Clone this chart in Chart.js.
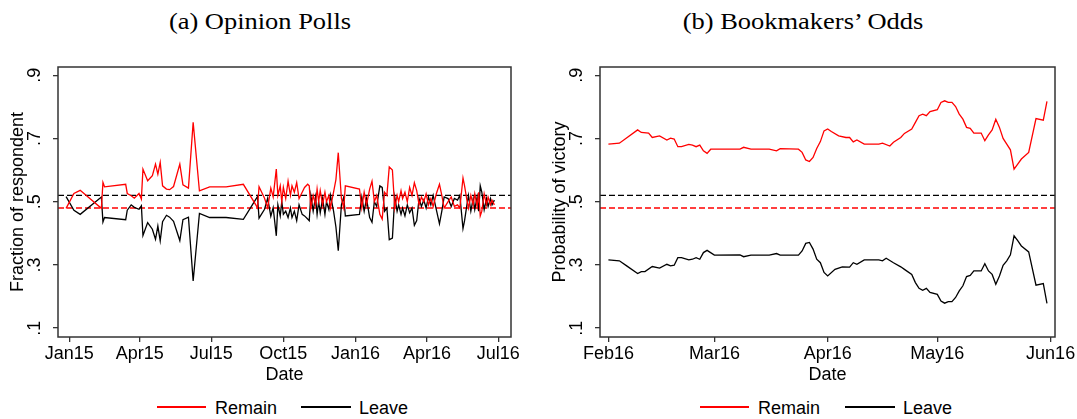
<!DOCTYPE html>
<html>
<head>
<meta charset="utf-8">
<script src="https://cdn.jsdelivr.net/npm/chart.js@4.4.0/dist/chart.umd.min.js"></script>
<style>
body{margin:0;background:#fff;width:1077px;height:419px;overflow:hidden;position:relative;font-family:"Liberation Sans",Arial,sans-serif;color:#000}
canvas{position:absolute;top:0}
.title{position:absolute;top:9px;width:600px;text-align:center;font:23px/26px "Liberation Serif",serif;transform:scaleX(1.15);transform-origin:center}
.lg{position:absolute;top:398px;font-size:18px;line-height:20px;white-space:nowrap}
.ln{position:absolute;top:406px;height:1.5px}
</style>
</head>
<body>
<div class="title" style="left:-40px">(a) Opinion Polls</div>
<div class="title" style="left:503px">(b) Bookmakers’ Odds</div>

<canvas id="polls" width="540" height="392" style="left:0"></canvas>
<canvas id="odds" width="537" height="392" style="left:540px"></canvas>

<div class="ln" style="left:157px;width:49px;background:#ff0000"></div>
<div class="lg" style="left:215px">Remain</div>
<div class="ln" style="left:301px;width:50px;background:#000"></div>
<div class="lg" style="left:359px">Leave</div>

<div class="ln" style="left:700px;width:49px;background:#ff0000"></div>
<div class="lg" style="left:758px">Remain</div>
<div class="ln" style="left:845px;width:50px;background:#000"></div>
<div class="lg" style="left:903px">Leave</div>

<script>
// y axis (both panels)
var yTicks = [0.1, 0.3, 0.5, 0.7, 0.9];
var yTickLabels = [".1", ".3", ".5", ".7", ".9"];
var yRange = [0.072, 0.926];
var refLeave = 0.52;
var refRemain = 0.48;

// (a) opinion polls, days since 1 Jan 2015
var pollTickDays = [0, 90, 181, 273, 365, 456, 547];
var pollTickLabels = ["Jan15", "Apr15", "Jul15", "Oct15", "Jan16", "Apr16", "Jul16"];
var pollRange = [-14.3, 563.2];
var pollDays = [-4, 6, 14, 41, 43, 45, 72, 74, 79, 83, 89, 92, 94, 100, 106, 110, 113, 116, 119, 124,
	128, 133, 141, 145, 152, 158, 166, 179, 200, 222,
	240, 242, 249, 253, 257, 260, 264,
	266, 269, 271, 273, 276, 279, 282, 284, 287, 290, 293, 297, 300, 304, 306, 308, 311, 314, 316, 318,
	320, 323, 326, 328, 331, 333, 337, 340, 343, 347, 350, 352, 370, 373, 376, 379, 383, 386, 389, 392,
	396, 399, 402, 405,
	408, 412, 415, 418, 420, 423, 425, 428, 431, 434, 437, 440, 443, 446, 449, 452, 455, 458, 461, 464,
	468, 472, 475, 478, 483, 487, 491, 495, 498, 502, 504, 507, 509, 512, 515, 517, 520, 522, 524, 526,
	529, 532, 534, 537, 539, 542];
var pollRemain = [.479, .526, .536, .479, .561, .547, .555, .526, .519, .511, .526, .508, .603, .566, .582, .619, .587, .624, .550, .540,
	.538, .548, .619, .553, .543, .751, .534, .547, .547, .555,
	.481, .547, .511, .481, .543, .515, .603,
	.52, .55, .50, .545, .51, .565, .52, .55, .53, .56, .51, .53, .545, .555, .55, .48, .52, .49, .54, .50,
	.535, .49, .53, .50, .52, .48, .53, .57, .655, .51, .48, .55, .54, .48, .53, .49, .54, .565, .50, .52,
	.46, .445, .53, .52,
	.61, .60, .48, .52, .50, .535, .51, .53, .50, .545, .52, .56, .535, .49, .515, .50, .525, .49, .51, .485,
	.525, .555, .52, .48, .50, .515, .485, .49, .48, .575, .55, .505, .48, .52, .49, .525, .485, .53, .455, .47,
	.525, .49, .515, .49, .505, .49];
var pollLeave = [.516, .473, .460, .515, .436, .450, .443, .473, .490, .482, .476, .487, .393, .434, .413, .381, .423, .376, .437, .457,
	.451, .438, .377, .443, .451, .249, .463, .450, .450, .444,
	.516, .448, .476, .511, .454, .481, .392,
	.49, .455, .50, .46, .47, .45, .48, .45, .47, .44, .49, .46, .455, .445, .44, .52, .47, .515, .46, .50,
	.465, .51, .46, .50, .475, .52, .47, .42, .345, .49, .515, .455, .46, .515, .47, .51, .45, .435, .50, .485,
	.55, .545, .47, .48,
	.38, .385, .515, .47, .49, .46, .48, .455, .49, .465, .48, .425, .44, .51, .485, .505, .48, .515, .49, .52,
	.475, .43, .47, .515, .51, .485, .51, .505, .52, .415, .44, .49, .52, .47, .51, .475, .515, .47, .55, .53,
	.475, .51, .485, .51, .49, .505];

// (b) bookmakers' odds, days since 1 Feb 2016
var oddsTickDays = [0, 29, 60, 90, 121];
var oddsTickLabels = ["Feb16", "Mar16", "Apr16", "May16", "Jun16"];
var oddsRange = [-2.3, 122.2];
var remainDays = [0, 3, 8, 9, 11, 12, 14, 16, 17, 18, 19, 20, 22, 23, 24, 25, 26, 27, 28, 36, 37, 39, 44, 46, 47,
	52, 53, 54, 55, 56, 57, 58, 59, 60, 61, 63, 65, 66, 67, 68, 70, 74, 75, 77, 78, 80, 81, 83, 84, 85, 86, 87, 88,
	90, 91, 92, 93, 94, 95, 96, 97, 98, 99, 100, 102, 103, 104, 105, 106, 107, 108, 109, 110, 111, 112, 113, 115,
	117, 119, 120];
var oddsRemain = [.682, .685, .727, .719, .717, .703, .708, .695, .701, .698, .674, .674, .681, .679, .674, .679, .661, .653, .666, .666, .672, .666, .666, .661, .668,
	.666, .656, .632, .627, .640, .668, .690, .724, .730, .722, .708, .703, .703, .689, .695, .682, .682, .685, .676, .688, .703, .716, .730, .751, .772, .777, .772, .785,
	.791, .814, .819, .814, .814, .801, .777, .761, .735, .732, .717, .717, .693, .711, .727, .761, .735, .700, .682, .664, .603, .619, .635, .656,
	.763, .758, .817];
var leaveDays = [0, 3, 5, 8, 9, 10, 12, 14, 16, 17, 18, 19, 20, 22, 23, 24, 25, 26, 27, 29, 36, 37, 39, 44, 46, 47,
	52, 53, 54, 55, 56, 57, 58, 59, 60, 62, 64, 66, 67, 68, 70, 74, 75, 76, 78, 80, 81, 83, 84, 85, 86, 87, 88,
	90, 91, 92, 93, 94, 95, 96, 97, 98, 99, 100, 102, 103, 104, 105, 106, 107, 108, 109, 110, 111, 112, 113, 115,
	117, 119, 120];
var oddsLeave = [.316, .313, .297, .273, .279, .279, .295, .290, .302, .297, .299, .323, .323, .316, .318, .323, .318, .339, .346, .331, .332, .326, .331, .331, .336, .331,
	.331, .344, .368, .371, .350, .318, .307, .276, .265, .286, .294, .293, .307, .302, .316, .316, .313, .321, .307, .294, .286, .270, .244, .226, .220, .226, .213,
	.207, .186, .179, .184, .184, .197, .218, .234, .263, .267, .281, .281, .304, .281, .270, .239, .265, .299, .313, .332, .392, .377, .360, .341,
	.236, .241, .178];

var tickFont = {family: "Liberation Sans", size: 18};
var frameColor = "#333";

function pts(xs, ys){
	return xs.map(function(x, i){ return {x: x, y: ys[i]}; });
}

var framePlugin = {
	id: "frame",
	afterDraw: function(chart){
		var ctx = chart.ctx, a = chart.chartArea, s = chart.scales.y;
		ctx.save();
		ctx.strokeStyle = frameColor;
		ctx.lineWidth = 1.5;
		ctx.strokeRect(a.left, a.top, a.right - a.left, a.bottom - a.top);
		ctx.font = "18px 'Liberation Sans'";
		ctx.fillStyle = "#000";
		ctx.textAlign = "center";
		ctx.textBaseline = "middle";
		for (var i=0; i<yTicks.length; i++){
			ctx.save();
			ctx.translate(a.left - 23, s.getPixelForValue(yTicks[i]));
			ctx.rotate(-Math.PI/2);
			ctx.fillText(yTickLabels[i], 0, 0);
			ctx.restore();
		}
		ctx.restore();
	}
};

function makeChart(id, opt){
	var line = function(label, data, color, dash){
		return {label: label, data: data, borderColor: color, borderWidth: 1.3, borderDash: dash || [],
			pointRadius: 0, tension: 0, fill: false};
	};
	new Chart(document.getElementById(id), {
		type: "line",
		data: {
			datasets: [
				line("Remain", opt.remain, "#ff0000"),
				line("Leave", opt.leave, "#000000"),
				line("ref leave", pts(opt.xRange, [refLeave, refLeave]), "#000000", [6, 3]),
				line("ref remain", pts(opt.xRange, [refRemain, refRemain]), "#ff0000", [6, 3])
			]
		},
		options: {
			responsive: false,
			animation: false,
			devicePixelRatio: 1,
			layout: {padding: {top: 67, right: opt.padRight, bottom: 0, left: 0}},
			plugins: {legend: {display: false}, tooltip: {enabled: false}},
			scales: {
				x: {
					type: "linear",
					min: opt.xRange[0],
					max: opt.xRange[1],
					afterBuildTicks: function(s){ s.ticks = opt.tickDays.map(function(v){ return {value: v}; }); },
					afterFit: function(s){ s.height = 55; s.paddingLeft = 0; s.paddingRight = 0; },
					ticks: {
						autoSkip: false, maxRotation: 0, padding: 1, color: "#000", font: tickFont,
						callback: function(v, i){ return opt.tickLabels[i]; }
					},
					grid: {drawOnChartArea: false, drawTicks: true, tickLength: 5, color: frameColor, lineWidth: 1.3},
					border: {display: false},
					title: {display: true, text: "Date", color: "#000", font: tickFont, padding: {top: 0, bottom: 6}}
				},
				y: {
					min: yRange[0],
					max: yRange[1],
					afterBuildTicks: function(s){ s.ticks = yTicks.map(function(v){ return {value: v}; }); },
					afterFit: function(s){ s.width = opt.yWidth; s.paddingTop = 0; s.paddingBottom = 0; },
					ticks: {display: false},
					grid: {drawOnChartArea: false, drawTicks: true, tickLength: 5, color: frameColor, lineWidth: 1.3},
					border: {display: false},
					title: {display: true, text: opt.yTitle, color: "#000", font: tickFont, padding: {top: opt.yTitlePad, bottom: 0}}
				}
			}
		},
		plugins: [framePlugin]
	});
}

makeChart("polls", {
	remain: pts(pollDays, pollRemain),
	leave: pts(pollDays, pollLeave),
	xRange: pollRange,
	tickDays: pollTickDays,
	tickLabels: pollTickLabels,
	yTitle: "Fraction of respondent",
	yWidth: 58, yTitlePad: 7, padRight: 29
});

makeChart("odds", {
	remain: pts(remainDays, oddsRemain),
	leave: pts(leaveDays, oddsLeave),
	xRange: oddsRange,
	tickDays: oddsTickDays,
	tickLabels: oddsTickLabels,
	yTitle: "Probability of victory",
	yWidth: 60, yTitlePad: 9, padRight: 22
});
</script>
</body>
</html>
